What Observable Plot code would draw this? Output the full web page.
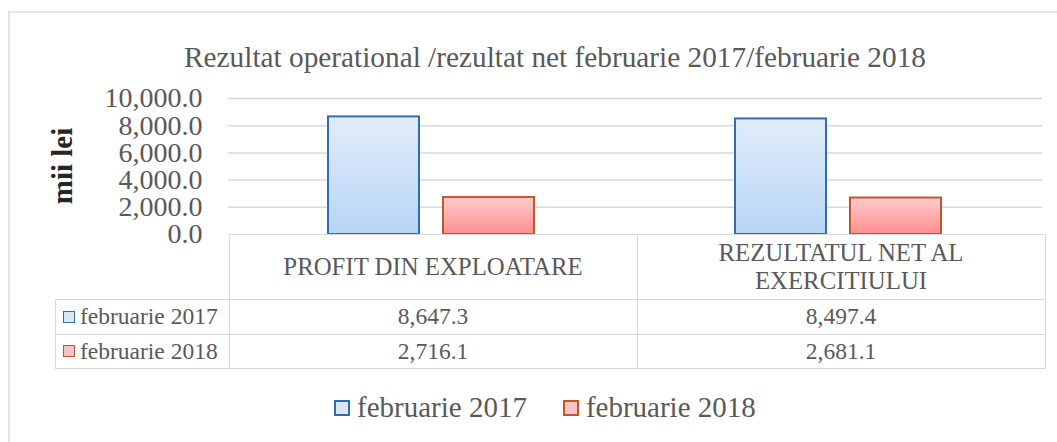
<!DOCTYPE html>
<html>
<head>
<meta charset="utf-8">
<script src="https://cdn.jsdelivr.net/npm/d3@7"></script>
<script src="https://cdn.jsdelivr.net/npm/@observablehq/plot@0.6"></script>
<style>
  html, body { margin: 0; padding: 0; background: #fff; overflow: hidden; }
  #root { position: relative; width: 1057px; height: 442px; overflow: hidden; font-family: "Liberation Serif", Tinos, "Times New Roman", "Nimbus Roman", "DejaVu Serif", serif; color: #595959; }
  #frame { position: absolute; left: 8px; top: 11px; width: 1100px; height: 500px; border: 2px solid #e4e4e4; }
  #title { position: absolute; left: 0; width: 1110px; top: 40px; text-align: center; font-size: 29.3px; line-height: 34px; color: #595959; white-space: nowrap; }
  #chart { position: absolute; left: 0; top: 0; }
  #ylabel { position: absolute; left: 62px; top: 166px; transform: translate(-50%, -50%) rotate(-90deg); font-size: 29px; font-weight: bold; color: #262626; white-space: nowrap; }
  #table { position: absolute; left: 55px; top: 234px; border-collapse: collapse; font-size: 23.5px; color: #595959; }
  #table td { border: 1.5px solid #d9d9d9; padding: 0; text-align: center; }
  #table td.corner { border-top: none; border-left: none; }
  #table td.head { font-size: 24.8px; line-height: 28px; }
  #table td.rowlab { text-align: left; padding-left: 7px; white-space: nowrap; }
  .key { display: inline-block; box-sizing: border-box; border: 1.5px solid; vertical-align: middle; position: relative; top: -2px; }
  #legend { position: absolute; left: 334px; top: 390px; font-size: 29px; color: #595959; white-space: nowrap; line-height: 34px; }
  #legend span.item { display: inline-block; }
</style>
</head>
<body>
<div id="root">
  <div id="frame"></div>
  <div id="title"></div>
  <div id="chart"></div>
  <div id="ylabel"></div>
  <table id="table"></table>
  <div id="legend"></div>
</div>
<script>
// ---- data ----
const titleText = "Rezultat operational /rezultat net februarie 2017/februarie 2018";
const yLabelText = "mii lei";
const categories = ["PROFIT DIN EXPLOATARE", "REZULTATUL NET AL EXERCITIULUI"];
const categoryLines = [["PROFIT DIN EXPLOATARE"], ["REZULTATUL NET AL", "EXERCITIULUI"]];
const series = ["februarie 2017", "februarie 2018"];
const values2017 = [8647.3, 8497.4];
const values2018 = [2716.1, 2681.1];
const yTicks = [0, 2000, 4000, 6000, 8000, 10000];

// ---- styles ----
const seriesFill = {"februarie 2017": "url(#gBlue)", "februarie 2018": "url(#gRed)"};
const seriesStroke = {"februarie 2017": "#2f6db4", "februarie 2018": "#c0572b"};
const keyFill = {"februarie 2017": "#dbe6f2", "februarie 2018": "#f7c2c8"};

const seriesValues = [values2017, values2018];
const data = [];
series.forEach((s, si) => categories.forEach((c, ci) => data.push({category: c, series: s, value: seriesValues[si][ci]})));

const fmt = d3.format(",.1f");

document.getElementById("title").textContent = titleText;
document.getElementById("ylabel").textContent = yLabelText;

const chart = Plot.plot({
  width: 1057,
  height: 236,
  marginLeft: 228,
  marginRight: 15,
  marginTop: 98,
  marginBottom: 2,
  style: {fontFamily: "'Liberation Serif', Tinos, 'Times New Roman', 'Nimbus Roman', 'DejaVu Serif', serif", fontSize: "28px", color: "#595959", background: "transparent", overflow: "visible"},
  fx: {domain: categories, padding: 0, axis: null, label: null},
  x: {domain: series, paddingInner: 0.207, paddingOuter: 0.858, axis: null},
  y: {domain: [0, 10000], ticks: yTicks, tickFormat: fmt, tickSize: 0, tickPadding: 26, label: null},
  color: {type: "identity"},
  marks: [
    Plot.gridY(yTicks.filter(d => d > 0), {stroke: "#d9d9d9", strokeOpacity: 1, strokeWidth: 1.5}),
    Plot.barY(data, {fx: "category", x: "series", y: "value", fill: d => seriesFill[d.series], stroke: d => seriesStroke[d.series], strokeWidth: 2})
  ]
});

chart.insertAdjacentHTML("afterbegin", `
<defs>
  <linearGradient id="gBlue" x1="0" y1="0" x2="0" y2="1">
    <stop offset="0" stop-color="#e2ecf9"/>
    <stop offset="1" stop-color="#b7d5f5"/>
  </linearGradient>
  <linearGradient id="gRed" x1="0" y1="0" x2="0" y2="1">
    <stop offset="0" stop-color="#ffcccc"/>
    <stop offset="1" stop-color="#ff8e8e"/>
  </linearGradient>
</defs>`);
document.getElementById("chart").appendChild(chart);

// ---- data table ----
const table = document.getElementById("table");
const colW = 407;
let html = `<tr style="height:65px"><td class="corner" style="width:173px"></td>`;
categoryLines.forEach(lines => {
  html += `<td class="head" style="width:${colW}px">${lines.join("<br>")}</td>`;
});
html += `</tr>`;
series.forEach((s, si) => {
  html += `<tr style="height:34.5px"><td class="rowlab"><span class="key" style="width:12px;height:12px;background:${keyFill[s]};border-color:${seriesStroke[s]}"></span><span style="margin-left:5px">${s}</span></td>`;
  seriesValues[si].forEach(v => { html += `<td>${fmt(v)}</td>`; });
  html += `</tr>`;
});
table.innerHTML = html;

// ---- legend ----
const legend = document.getElementById("legend");
legend.innerHTML = series.map((s, i) =>
  `<span class="item" style="${i ? 'margin-left:36px' : ''}"><span class="key" style="width:16px;height:16px;border-width:2px;background:${keyFill[s]};border-color:${seriesStroke[s]}"></span><span style="margin-left:7px">${s}</span></span>`
).join("");
</script>
</body>
</html>
